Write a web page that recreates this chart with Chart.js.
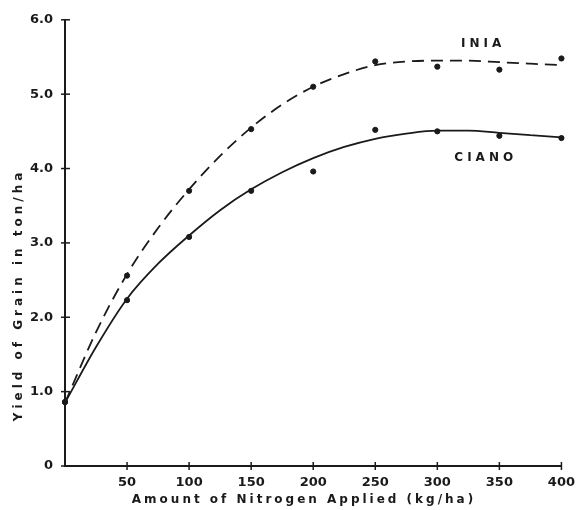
<!DOCTYPE html>
<html>
<head>
<meta charset="utf-8">
<script src="https://cdn.jsdelivr.net/npm/chart.js@4"></script>
<style>
  html, body { margin: 0; padding: 0; background: #fff; }
  canvas { display: block; }
</style>
</head>
<body>
<canvas id="yieldChart" width="584" height="510"></canvas>
<script>
// nitrogen rates (kg/ha) and measured grain yield (ton/ha)
const nitrogen = [0, 50, 100, 150, 200, 250, 300, 350, 400];
const iniaYield = [0.86, 2.56, 3.70, 4.53, 5.10, 5.44, 5.37, 5.33, 5.48];
const cianoYield = [0.86, 2.23, 3.08, 3.70, 3.96, 4.52, 4.50, 4.44, 4.41];

// fitted response curves, read every 25 kg/ha
const curveN = [0, 25, 50, 75, 100, 125, 150, 175, 200, 225, 250, 275, 300, 325, 350, 375, 400];
const iniaCurve = [0.85, 1.80, 2.58, 3.20, 3.72, 4.17, 4.55, 4.86, 5.10, 5.27, 5.39, 5.44, 5.45, 5.45, 5.43, 5.41, 5.39];
const cianoCurve = [0.85, 1.60, 2.25, 2.72, 3.10, 3.44, 3.72, 3.95, 4.14, 4.29, 4.40, 4.47, 4.51, 4.51, 4.48, 4.45, 4.42];

const xTicks = [50, 100, 150, 200, 250, 300, 350, 400];
const yTicks = [0, 1, 2, 3, 4, 5, 6];
const yTickLabels = ["0", "1.0", "2.0", "3.0", "4.0", "5.0", "6.0"];

const ink = "#1a1a1a";
const fontFamily = "'DejaVu Sans', 'Liberation Sans', sans-serif";

const pairs = (xs, ys) => xs.map((x, i) => ({ x: x, y: ys[i] }));

// tick crosses, axis titles and the variety labels
const decorations = {
  id: "decorations",
  afterDraw(chart) {
    const { ctx, scales } = chart;
    const xs = scales.x, ys = scales.y;
    ctx.save();
    ctx.strokeStyle = ink;
    ctx.lineWidth = 1.5;
    xTicks.forEach((v) => {
      const px = xs.getPixelForValue(v);
      ctx.beginPath();
      ctx.moveTo(px, ys.bottom - 4);
      ctx.lineTo(px, ys.bottom + 4);
      ctx.stroke();
    });
    yTicks.forEach((v) => {
      const py = ys.getPixelForValue(v);
      ctx.beginPath();
      ctx.moveTo(xs.left - 4, py);
      ctx.lineTo(xs.left + 5, py);
      ctx.stroke();
    });

    ctx.fillStyle = ink;
    ctx.textAlign = "center";
    ctx.textBaseline = "middle";
    ctx.font = "bold 12px " + fontFamily;
    ctx.letterSpacing = "3px";
    ctx.fillText("Amount of Nitrogen Applied (kg/ha)", 304, 500);

    ctx.save();
    ctx.translate(19, 295);
    ctx.rotate(-Math.PI / 2);
    ctx.letterSpacing = "4px";
    ctx.fillText("Yield of Grain in ton/ha", 0, 0);
    ctx.restore();

    ctx.font = "bold 12px " + fontFamily;
    ctx.letterSpacing = "4px";
    ctx.fillText("INIA", xs.getPixelForValue(337), ys.getPixelForValue(5.67));
    ctx.fillText("CIANO", xs.getPixelForValue(339), ys.getPixelForValue(4.15));
    ctx.restore();
  },
};

new Chart(document.getElementById("yieldChart"), {
  type: "scatter",
  data: {
    datasets: [
      {
        label: "INIA fit",
        type: "line",
        data: pairs(curveN, iniaCurve),
        borderColor: ink,
        borderWidth: 1.8,
        borderDash: [12, 7],
        pointRadius: 0,
        cubicInterpolationMode: "monotone",
        fill: false,
      },
      {
        label: "CIANO fit",
        type: "line",
        data: pairs(curveN, cianoCurve),
        borderColor: ink,
        borderWidth: 1.8,
        pointRadius: 0,
        cubicInterpolationMode: "monotone",
        fill: false,
      },
      {
        label: "INIA",
        data: pairs(nitrogen, iniaYield),
        backgroundColor: ink,
        borderColor: ink,
        pointRadius: 2.6,
        clip: false,
      },
      {
        label: "CIANO",
        data: pairs(nitrogen, cianoYield),
        backgroundColor: ink,
        borderColor: ink,
        pointRadius: 2.6,
        clip: false,
      },
    ],
  },
  options: {
    responsive: false,
    animation: false,
    devicePixelRatio: 1,
    layout: { padding: { left: 0, right: 21, top: 17, bottom: 0 } },
    plugins: {
      legend: { display: false },
      tooltip: { enabled: false },
    },
    scales: {
      x: {
        type: "linear",
        min: 0,
        max: 400,
        afterFit: (scale) => { scale.height = 44; },
        afterBuildTicks: (scale) => {
          scale.ticks = xTicks.map((v) => ({ value: v }));
        },
        grid: { display: false, drawTicks: false },
        border: { display: true, color: ink, width: 2 },
        ticks: {
          color: ink,
          padding: 9,
          maxRotation: 0,
          font: { family: fontFamily, size: 13, weight: "bold" },
        },
      },
      y: {
        type: "linear",
        min: 0,
        max: 6,
        afterFit: (scale) => { scale.width = 65; },
        afterBuildTicks: (scale) => {
          scale.ticks = yTicks.map((v) => ({ value: v }));
        },
        grid: { display: false, drawTicks: false },
        border: { display: true, color: ink, width: 2 },
        ticks: {
          color: ink,
          padding: 12,
          font: { family: fontFamily, size: 13, weight: "bold" },
          callback: (v) => yTickLabels[yTicks.indexOf(v)],
        },
      },
    },
  },
  plugins: [decorations],
});
</script>
</body>
</html>
